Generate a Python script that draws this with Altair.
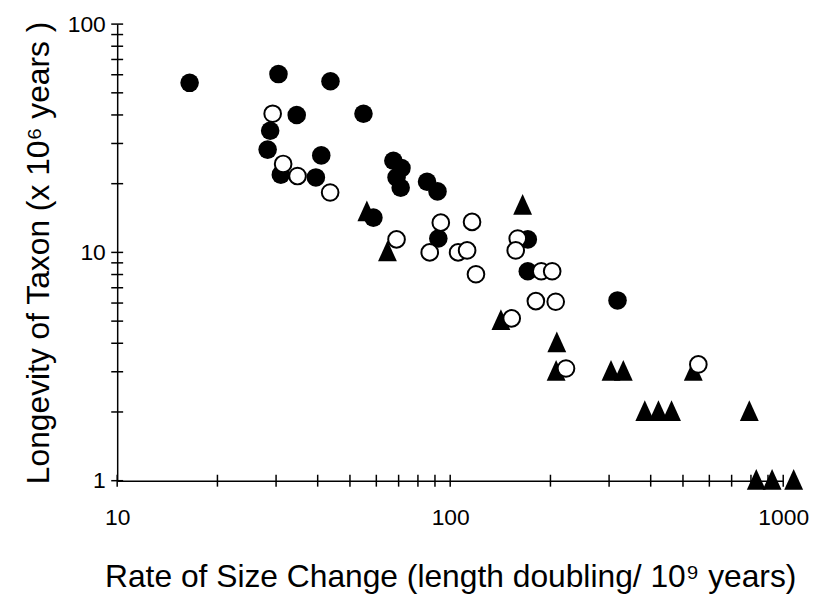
import altair as alt
import pandas as pd

# Filled circles
filled_x = [16.5, 30.5, 43.7, 34.6, 54.9, 28.8, 28.3, 41.0, 31.0, 39.5, 67.5,
            71.4, 69.0, 71.0, 85.2, 91.6, 58.8, 92.1, 171, 171, 318]
filled_y = [55.3, 60.4, 56.2, 40.0, 40.5, 34.1, 28.2, 26.6, 21.9, 21.3, 25.2,
            23.4, 21.3, 19.2, 20.4, 18.5, 14.2, 11.5, 11.4, 8.27, 6.16]

# Open circles
open_x = [29.3, 31.5, 34.8, 43.6, 69.0, 93.7, 116.3, 86.8, 105.6, 112.4, 119.5,
          159.5, 157.3, 187.7, 202.4, 180.8, 207.4, 153.0, 222.7, 556]
open_y = [40.5, 24.4, 21.6, 18.3, 11.4, 13.5, 13.6, 10.0, 10.0, 10.2, 8.02,
          11.5, 10.2, 8.27, 8.27, 6.12, 6.08, 5.14, 3.10, 3.23]

# Filled triangles
tri_x = [56.2, 64.8, 165, 142, 209, 208, 304, 331, 537, 384, 422, 462, 791, 830, 926, 1075]
tri_y = [15, 10, 16, 5, 4, 3, 3, 3, 3, 2, 2, 2, 2, 1, 1, 1]

# Axis ticks and labels
x_tick_values = [10, 20, 30, 40, 50, 60, 70, 80, 90, 100, 200, 300, 400, 500,
                 600, 700, 800, 900, 1000]
y_tick_values = [1, 2, 3, 4, 5, 6, 7, 8, 9, 10, 20, 30, 40, 50, 60, 70, 80, 90, 100]
x_labels = [10, 100, 1000]
y_labels = [1, 10, 100]

FONT = "Liberation Sans"

df_f = pd.DataFrame({"x": filled_x, "y": filled_y})
df_o = pd.DataFrame({"x": open_x, "y": open_y})
df_t = pd.DataFrame({"x": tri_x, "y": tri_y})
df_xt = pd.DataFrame({"x": x_tick_values, "y": [1] * len(x_tick_values)})
df_yt = pd.DataFrame({"y": y_tick_values, "x": [10] * len(y_tick_values)})

xscale = alt.Scale(type="log", domain=[10, 1000], nice=False)
yscale = alt.Scale(type="log", domain=[1, 100], nice=False)

xenc = alt.X("x:Q", scale=xscale, axis=alt.Axis(
    values=x_labels, format="d", ticks=False, grid=False,
    title="Rate of Size Change (length doubling/ 10⁹ years)",
    labelFontSize=23, titleFontSize=32, labelPadding=26, titlePadding=33,
    labelFont=FONT, titleFont=FONT, titleFontWeight="normal",
    labelColor="black", titleColor="black",
    domainColor="black", domainWidth=1.5, labelFlush=False))
yenc = alt.Y("y:Q", scale=yscale, axis=alt.Axis(
    values=y_labels, format="d", ticks=False, grid=False,
    title="Longevity of Taxon (x 10⁶ years )",
    labelFontSize=23, titleFontSize=32, labelPadding=12, titlePadding=12,
    labelFont=FONT, titleFont=FONT, titleFontWeight="normal",
    labelColor="black", titleColor="black",
    domainColor="black", domainWidth=1.5, labelFlush=False))

xticks = alt.Chart(df_xt).mark_tick(orient="vertical", color="black", size=12,
                                    thickness=1.5, opacity=1).encode(x=xenc, y="y:Q")
yticks = alt.Chart(df_yt).mark_tick(orient="horizontal", color="black", size=12,
                                    thickness=1.5, opacity=1).encode(x="x:Q", y=yenc)

TRI = "M0,-1.25 L-1,0.95 L1,0.95 Z"
tri = alt.Chart(df_t).mark_point(shape=TRI, filled=True, color="black", size=361,
                                 opacity=1).encode(x="x:Q", y="y:Q")
fil = alt.Chart(df_f).mark_point(shape="circle", filled=True, color="black", size=350,
                                 opacity=1).encode(x="x:Q", y="y:Q")
opn = alt.Chart(df_o).mark_point(shape="circle", filled=True, fill="white", stroke="black",
                                 strokeWidth=2, size=282, opacity=1).encode(x="x:Q", y="y:Q")

chart = alt.layer(xticks, yticks, tri, fil, opn).properties(
    width=671, height=460,
    autosize=alt.AutoSizeParams(type="none"),
    padding={"left": 110, "top": 14, "right": 30, "bottom": 122},
).configure_view(strokeWidth=0, stroke="transparent")

chart.save("out.html", embed_options={"renderer": "svg", "actions": False})
